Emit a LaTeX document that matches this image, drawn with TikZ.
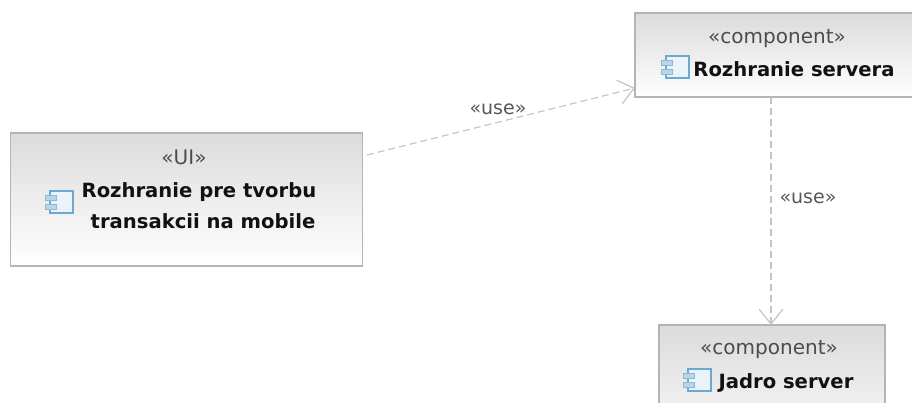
\documentclass[tikz,border=0pt]{standalone}
\usepackage{fontspec}
\setmainfont{DejaVu Sans}
\usetikzlibrary{arrows.meta,calc}
\definecolor{edge}{HTML}{B4B4B4}
\definecolor{dep}{HTML}{C4C4C4}
\definecolor{iconb}{HTML}{6FA8CF}
\definecolor{iconf}{HTML}{EAF3FA}
\definecolor{ink}{HTML}{111111}
\tikzset{
  box/.style={draw=edge,line width=1.2pt,top color=#1,bottom color=white,minimum height=0pt,inner sep=0pt},
  stereo/.style={font=\fontsize{20}{22}\selectfont,text=ink!75,inner sep=0pt},
  titletext/.style={font=\fontsize{19.6}{22}\bfseries\selectfont,text=ink,inner sep=0pt},
  uselabel/.style={font=\fontsize{19}{22}\selectfont,text=ink!70,inner sep=0pt},
  usedep/.style={draw=dep,line width=1.2pt,dash pattern=on 7pt off 4pt,
    -{Straight Barb[length=15pt,width=24pt,line width=1.2pt]}},
}
\newcommand{\compicon}[2]{%
  \draw[iconb,line width=1.2pt,fill=iconf] (#1+5,#2) rectangle (#1+28,#2+22);
  \draw[iconb!80,line width=1pt,fill=iconf!60!iconb] (#1,#2+4) rectangle (#1+11,#2+9);
  \draw[iconb!80,line width=1pt,fill=iconf!60!iconb] (#1,#2+13) rectangle (#1+11,#2+18);
}
\begin{document}
\begin{tikzpicture}[x=1pt,y=-1pt]
\useasboundingbox (0,0) rectangle (912,402);
\clip (0,0) rectangle (912,402);
\fill[white] (0,0) rectangle (912,402);
\node[box=gray!28,minimum width=352pt,minimum height=133pt] (ui) at (186.5,199.5) {};
\node[box=gray!28,minimum width=300pt,minimum height=84pt] (srv) at (785,55) {};
\node[box=gray!28,minimum width=226pt,minimum height=140pt] (core) at (772,395) {};
\node[stereo] (uis) at (184,157) {«UI»};
\node[titletext] (uit1) at (199,192) {Rozhranie pre tvorbu};
\node[titletext] (uit2) at (203,221) {transakcii na mobile};
\node[stereo] (srvs) at (777,39) {«component»};
\node[titletext] (srvt) at (794,69) {Rozhranie servera};
\node[stereo] (cores) at (769,350) {«component»};
\node[titletext] (coret) at (786,383) {Jadro server};
\compicon{45}{191}
\compicon{661}{56}
\compicon{683}{369}
\coordinate (a1) at (367,155);
\coordinate (b1) at (635,88);
\coordinate (a2) at (771,97);
\coordinate (b2) at (771,325);
\draw[usedep] (a1) -- (b1);
\draw[usedep] (a2) -- (b2);
\node[uselabel] (u1) at (498,109) {«use»};
\node[uselabel] (u2) at (808,198) {«use»};
\end{tikzpicture}
\end{document}
